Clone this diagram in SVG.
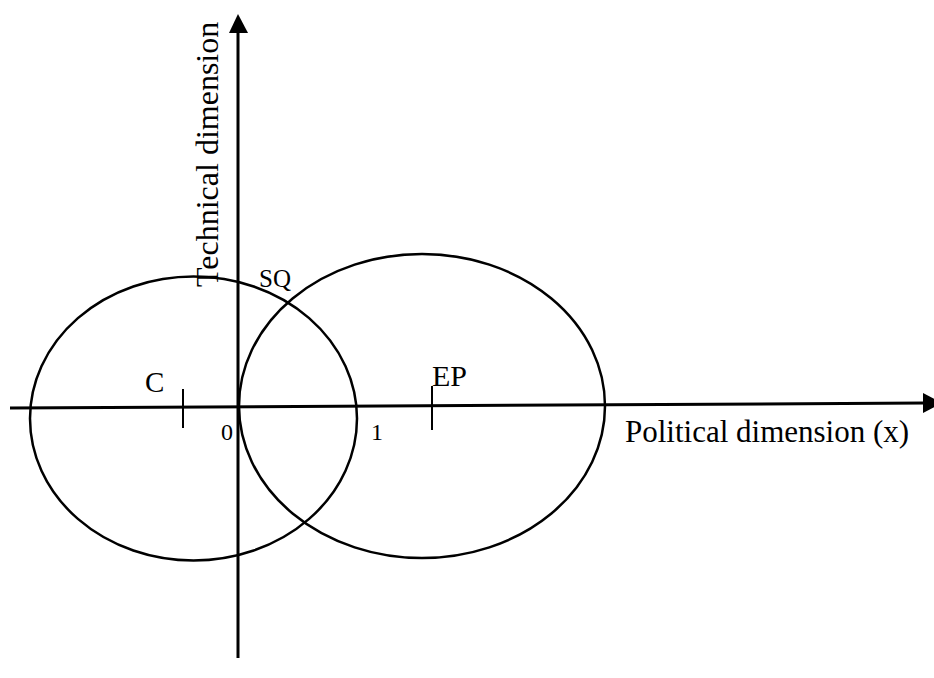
<svg xmlns="http://www.w3.org/2000/svg" width="934" height="678" viewBox="0 0 934 678">
<style>
.ax{stroke:#000;stroke-width:3;fill:none}
.el{stroke:#000;stroke-width:2.5;fill:none}
.tk{stroke:#000;stroke-width:2}
.t{font-family:"Liberation Serif","Times New Roman",serif;fill:#000}
</style>
<rect width="934" height="678" fill="#fff"/>
<g id="connectors">
<line class="ax" x1="10" y1="408" x2="925" y2="403"/>
<polygon points="923,393 942,403 923,413" fill="#000"/>
<line class="ax" x1="238" y1="33" x2="238" y2="658"/>
<polygon points="238,14 229,33 248,33" fill="#000"/>
</g>
<g id="circle-C"><ellipse class="el" cx="193.5" cy="418.5" rx="163.5" ry="142"/></g>
<g id="circle-EP"><ellipse class="el" cx="422" cy="406" rx="183" ry="152"/></g>
<g id="tick-C"><line class="tk" x1="183" y1="389" x2="183" y2="428"/><text class="t" x="145" y="392" font-size="29">C</text></g>
<g id="tick-EP"><line class="tk" x1="432" y1="386" x2="432" y2="430"/><text class="t" x="432" y="386" font-size="30">EP</text></g>
<g id="label-0"><text class="t" x="221" y="440" font-size="24">0</text></g>
<g id="label-1"><text class="t" x="371" y="440" font-size="24">1</text></g>
<g id="label-SQ"><text class="t" x="259" y="287" font-size="25">SQ</text></g>
<g id="label-x"><text class="t" x="625" y="442" font-size="31">Political dimension (x)</text></g>
<g id="label-y"><text class="t" transform="translate(218,287) rotate(-90)" font-size="32">Technical dimension</text></g>
</svg>
